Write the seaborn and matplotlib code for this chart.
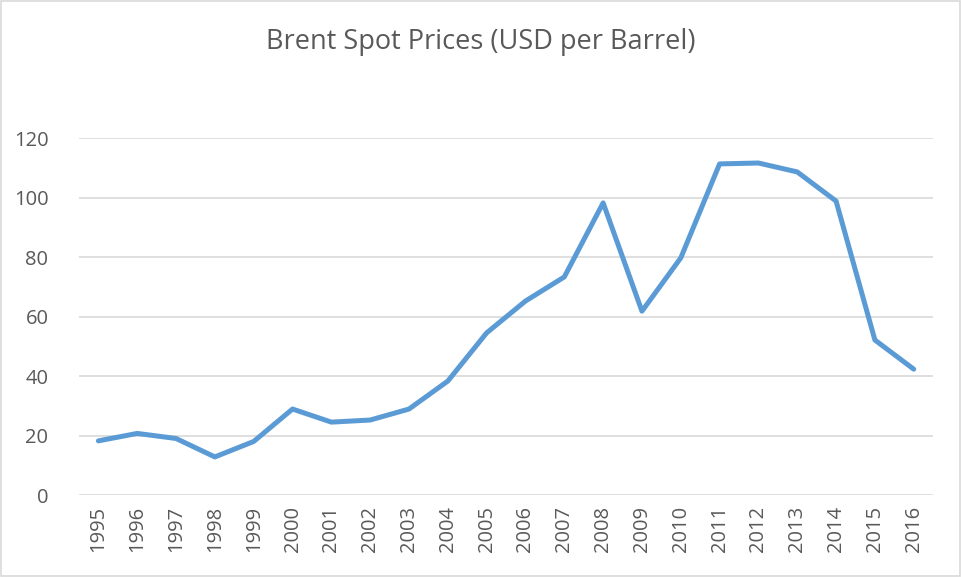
import matplotlib
matplotlib.use("Agg")
import matplotlib.pyplot as plt
import seaborn as sns
import pandas as pd
from matplotlib.patches import Rectangle

years = list(range(1995, 2017))
prices = [18.2, 20.7, 19.0, 12.8, 18.0, 28.9, 24.5, 25.2, 28.9, 38.3, 54.5,
          65.2, 73.3, 98.2, 61.8, 79.7, 111.3, 111.6, 108.6, 98.8, 52.1, 42.3]
yticks = [0, 20, 40, 60, 80, 100, 120]

df = pd.DataFrame({"year": years, "price": prices})

sns.set_theme(style="white")
plt.rcParams['font.family'] = ['Open Sans', 'DejaVu Sans']

fig = plt.figure(figsize=(9.62, 5.77), dpi=100)
ax = fig.add_axes([0.0821, 0.1421, 0.970 - 0.0821, 0.7608 - 0.1421])

sns.lineplot(data=df, x="year", y="price", ax=ax, color="#5B9BD5",
             linewidth=3.6, zorder=3)

ax.set_xlim(1994.5, 2016.5)
ax.set_ylim(0, 120)
ax.set_yticks(yticks)
ax.set_xticks(years)
ax.set_xticklabels([str(y) for y in years], rotation=90)
ax.grid(axis="y", color="#D9D9D9", linewidth=1.2)
ax.set_axisbelow(True)
for s in ax.spines.values():
    s.set_visible(False)
ax.tick_params(axis="both", length=0, labelsize=14.5, colors="#595959")
ax.tick_params(axis="y", pad=22)
ax.tick_params(axis="x", pad=8)
ax.set_xlabel("")
ax.set_ylabel("")

fig.text(0.5, 0.927, "Brent Spot Prices (USD per Barrel)", ha="center",
         va="center", fontsize=19.5, color="#595959")

fig.patches.append(Rectangle((0.001, 0.002), 0.997, 0.996, transform=fig.transFigure,
                             fill=False, edgecolor="#D9D9D9", linewidth=1.2))

fig.savefig("out.png", dpi=100)
